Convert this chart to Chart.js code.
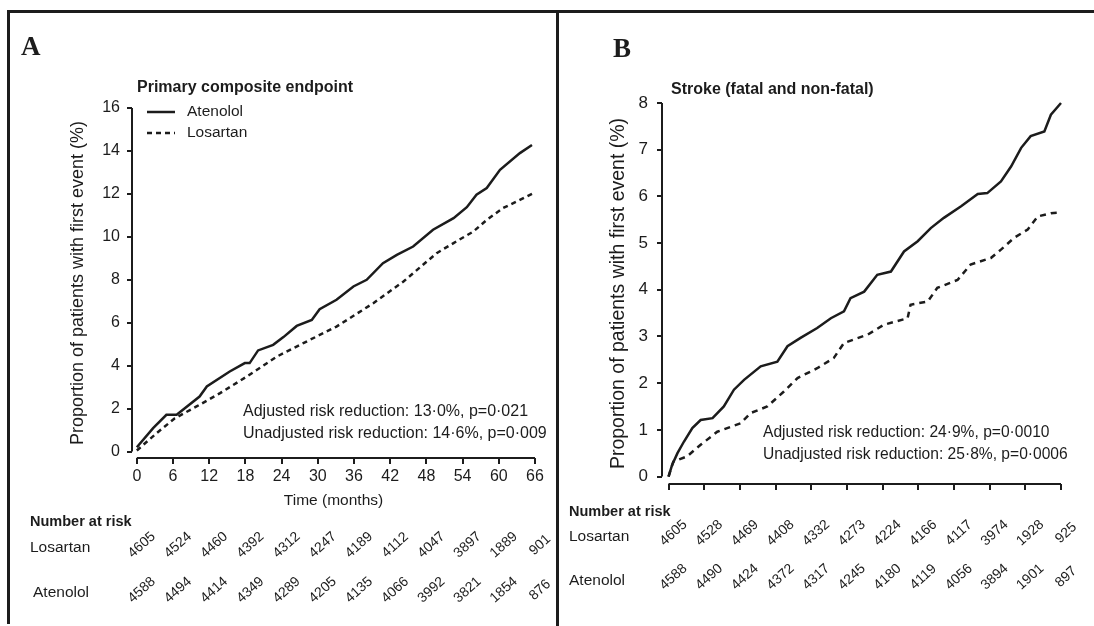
<!DOCTYPE html>
<html>
<head>
<meta charset="utf-8">
<script src="https://cdn.jsdelivr.net/npm/chart.js@4.4.1/dist/chart.umd.min.js"></script>
<style>
html,body{margin:0;padding:0;background:#fff;width:1094px;height:626px;overflow:hidden;}
#wrap{position:relative;width:1094px;height:626px;}
canvas{position:absolute;top:0;}
#cA{left:0;}
#cB{left:559px;}
.ln{position:absolute;background:#1c1c1c;}
</style>
</head>
<body>
<div id="wrap">
  <div class="ln" style="left:7px;top:10px;width:1087px;height:3px"></div>
  <div class="ln" style="left:7px;top:10px;width:3px;height:614px"></div>
  <div class="ln" style="left:556px;top:10px;width:3px;height:616px"></div>
  <canvas id="cA" width="556" height="626" style="width:556px;height:626px"></canvas>
  <canvas id="cB" width="535" height="626" style="width:535px;height:626px"></canvas>
</div>
<script>
// ---------- data ----------
const xTicks = [0, 6, 12, 18, 24, 30, 36, 42, 48, 54, 60, 66];
const A_yTicks = [0, 2, 4, 6, 8, 10, 12, 14, 16];
const B_yTicks = [0, 1, 2, 3, 4, 5, 6, 7, 8];

// Panel A: primary composite endpoint (months, %)
const A_atenolol_t = [0, 2.7, 4.9, 6.6, 10.4, 11.6, 15.4, 17.9, 18.7, 20.1, 22.6, 24.3, 26.5, 29.0, 30.3, 33.1, 35.9, 38.1, 40.8, 43.1, 45.8, 49.1, 52.5, 54.7, 56.3, 58.0, 60.2, 63.5, 65.5];
const A_atenolol_p = [0.2, 1.09, 1.71, 1.71, 2.56, 3.03, 3.73, 4.12, 4.12, 4.71, 4.97, 5.33, 5.85, 6.13, 6.63, 7.07, 7.69, 8.0, 8.77, 9.16, 9.55, 10.33, 10.87, 11.38, 11.96, 12.27, 13.12, 13.9, 14.28];
const A_losartan_t = [0, 3.3, 6.3, 9.9, 13.8, 18.2, 23.2, 27.6, 33.1, 39.2, 44.2, 49.7, 52.5, 55.8, 58.0, 60.7, 63.5, 65.5];
const A_losartan_p = [0.05, 0.86, 1.55, 2.1, 2.72, 3.49, 4.42, 5.05, 5.82, 6.91, 7.92, 9.24, 9.71, 10.25, 10.79, 11.34, 11.72, 12.0];

// Panel B: stroke (months, %)
const B_atenolol_t = [0, 0.6, 1.5, 2.6, 4.0, 5.4, 7.4, 9.3, 11.0, 12.7, 15.5, 18.3, 20.0, 22.2, 25.0, 27.3, 29.5, 30.6, 32.9, 35.1, 37.4, 39.6, 41.9, 44.1, 46.3, 49.2, 52.0, 53.6, 55.9, 57.6, 59.3, 60.9, 63.2, 64.3, 66];
const B_atenolol_p = [0, 0.25, 0.5, 0.75, 1.04, 1.21, 1.25, 1.5, 1.86, 2.07, 2.36, 2.46, 2.79, 2.97, 3.18, 3.39, 3.54, 3.82, 3.96, 4.32, 4.39, 4.82, 5.04, 5.32, 5.54, 5.79, 6.05, 6.07, 6.32, 6.64, 7.04, 7.29, 7.39, 7.75, 8.0];
const B_losartan_t = [0, 0.8, 3.1, 5.4, 8.2, 12.1, 13.8, 16.6, 19.4, 21.7, 25.0, 27.8, 29.5, 33.5, 36.2, 40.2, 40.7, 43.6, 45.2, 48.6, 50.8, 54.2, 55.9, 58.1, 60.4, 62.1, 64.3, 65.6];
const B_losartan_p = [0, 0.32, 0.43, 0.68, 0.96, 1.14, 1.36, 1.5, 1.82, 2.11, 2.32, 2.54, 2.86, 3.04, 3.25, 3.39, 3.68, 3.75, 4.04, 4.21, 4.54, 4.68, 4.86, 5.11, 5.29, 5.57, 5.64, 5.65];

// Number at risk
const A_risk_losartan = [4605, 4524, 4460, 4392, 4312, 4247, 4189, 4112, 4047, 3897, 1889, 901];
const A_risk_atenolol = [4588, 4494, 4414, 4349, 4289, 4205, 4135, 4066, 3992, 3821, 1854, 876];
const B_risk_losartan = [4605, 4528, 4469, 4408, 4332, 4273, 4224, 4166, 4117, 3974, 1928, 925];
const B_risk_atenolol = [4588, 4490, 4424, 4372, 4317, 4245, 4180, 4119, 4056, 3894, 1901, 897];

// Texts
const A_title = 'Primary composite endpoint';
const B_title = 'Stroke (fatal and non-fatal)';
const A_notes = ['Adjusted risk reduction: 13\u00b70%, p=0\u00b7021', 'Unadjusted risk reduction: 14\u00b76%, p=0\u00b7009'];
const B_notes = ['Adjusted risk reduction: 24\u00b79%, p=0\u00b70010', 'Unadjusted risk reduction: 25\u00b78%, p=0\u00b70006'];
const yTitle = 'Proportion of patients with first event (%)';
const xTitle = 'Time (months)';

// ---------- drawing ----------
const INK = '#1c1c1c';
const SANS = "'Liberation Sans', Arial, sans-serif";
Chart.defaults.font.family = SANS;
Chart.defaults.color = INK;

function toXY(t, p) { return t.map((v, i) => ({ x: v, y: p[i] })); }

function makeDecor(o) {
  return {
    id: 'decor',
    afterDraw(chart) {
      const ctx = chart.ctx, xs = chart.scales.x, ys = chart.scales.y, ca = chart.chartArea;
      ctx.save();
      ctx.strokeStyle = INK; ctx.fillStyle = INK; ctx.lineWidth = 2;
      // offset axis lines
      ctx.beginPath();
      ctx.moveTo(ca.left, ys.getPixelForValue(o.yTicks[o.yTicks.length - 1]));
      ctx.lineTo(ca.left, ys.getPixelForValue(0));
      ctx.stroke();
      ctx.beginPath();
      ctx.moveTo(xs.getPixelForValue(xTicks[0]), ca.bottom);
      ctx.lineTo(xs.getPixelForValue(xTicks[xTicks.length - 1]), ca.bottom);
      ctx.stroke();
      // panel letter
      ctx.textBaseline = 'middle'; ctx.textAlign = 'left';
      ctx.font = "bold 27px 'Liberation Serif', 'Times New Roman', serif";
      ctx.fillText(o.letter, o.letterX, o.letterY);
      // title
      ctx.font = 'bold 16px ' + SANS;
      ctx.fillText(o.title, o.titleX, o.titleY);
      // legend
      if (o.legend) {
        const ds = chart.data.datasets;
        ds.forEach((d, i) => {
          const y = o.legY + i * 21;
          ctx.save();
          ctx.lineWidth = d.borderWidth;
          ctx.setLineDash(d.borderDash || []);
          ctx.beginPath(); ctx.moveTo(o.legX, y); ctx.lineTo(o.legX + 28, y); ctx.stroke();
          ctx.restore();
          ctx.font = '15.5px ' + SANS;
          ctx.fillText(d.label, o.legX + 40, y);
        });
      }
      // annotations
      ctx.font = o.noteSize + 'px ' + SANS;
      o.notes.forEach((s, i) => ctx.fillText(s, o.noteX, o.noteY + i * 22));
      // number at risk
      ctx.font = 'bold 14.5px ' + SANS;
      ctx.fillText('Number at risk', o.riskX, o.riskHeadY);
      ctx.font = '15.5px ' + SANS;
      ctx.fillText('Losartan', o.riskX, o.rowY[0]);
      ctx.fillText('Atenolol', o.riskX + o.atenIndent, o.rowY[1]);
      ctx.font = '14px ' + SANS;
      ctx.textAlign = 'center';
      [o.riskLos, o.riskAten].forEach((arr, r) => {
        arr.forEach((n, i) => {
          const x = xs.getPixelForValue(xTicks[i]) + 5;
          const y = o.numY[r];
          ctx.save();
          ctx.translate(x, y);
          ctx.rotate(-42 * Math.PI / 180);
          ctx.fillText(String(n), 0, 0);
          ctx.restore();
        });
      });
      ctx.restore();
    }
  };
}

function build(id, o) {
  return new Chart(document.getElementById(id), {
    type: 'line',
    data: {
      datasets: [
        { label: 'Atenolol', data: toXY(o.atT, o.atP), borderColor: INK, borderWidth: 2.5, pointRadius: 0, tension: 0, fill: false, clip: 6 },
        { label: 'Losartan', data: toXY(o.loT, o.loP), borderColor: INK, borderWidth: 2.5, borderDash: o.dash, pointRadius: 0, tension: 0, fill: false, clip: 6 }
      ]
    },
    options: {
      responsive: false, animation: false, devicePixelRatio: 1,
      layout: { padding: o.pad },
      plugins: { legend: { display: false }, tooltip: { enabled: false } },
      scales: {
        x: {
          type: 'linear', min: o.xMin, max: 66,
          afterBuildTicks: a => { a.ticks = xTicks.map(v => ({ value: v })); },
          afterFit: s => { s.height = o.xH; },
          grid: { display: true, drawOnChartArea: false, drawTicks: true, tickLength: 6, color: INK, lineWidth: 2 },
          border: { display: false },
          ticks: { display: o.xLabels, autoSkip: false, maxRotation: 0, padding: 3, color: INK, font: { size: 16 } },
          title: { display: o.xLabels, text: xTitle, color: INK, font: { size: 15.5 }, padding: { top: 0, bottom: o.xTitlePad } }
        },
        y: {
          type: 'linear', min: o.yMin, max: o.yTicks[o.yTicks.length - 1],
          afterBuildTicks: a => { a.ticks = o.yTicks.map(v => ({ value: v })); },
          afterFit: s => { s.width = o.yW; },
          grid: { display: true, drawOnChartArea: false, drawTicks: true, tickLength: 5, color: INK, lineWidth: 2 },
          border: { display: false },
          ticks: { padding: o.yTickPad, color: INK, font: { size: o.yTickSize } },
          title: { display: true, text: yTitle, color: INK, font: { size: o.yTitleSize }, padding: { top: o.yTitlePad, bottom: 0 } }
        }
      }
    },
    plugins: [makeDecor(o)]
  });
}

build('cA', {
  atT: A_atenolol_t, atP: A_atenolol_p, loT: A_losartan_t, loP: A_losartan_p,
  dash: [5, 4], yTicks: A_yTicks, xMin: -0.8, yMin: -0.3,
  pad: { left: 0, top: 108, right: 21, bottom: 108 }, yW: 132, xH: 60,
  xLabels: true, xTitlePad: 8, yTickPad: 7, yTickSize: 16, yTitleSize: 18, yTitlePad: 67,
  letter: 'A', letterX: 21, letterY: 48,
  title: A_title, titleX: 137, titleY: 88,
  legend: true, legX: 147, legY: 112,
  notes: A_notes, noteSize: 16, noteX: 243, noteY: 412,
  riskX: 30, riskHeadY: 522, atenIndent: 3, rowY: [548, 593], numY: [545, 590],
  riskLos: A_risk_losartan, riskAten: A_risk_atenolol
});

build('cB', {
  atT: B_atenolol_t, atP: B_atenolol_p, loT: B_losartan_t, loP: B_losartan_p,
  dash: [6, 5], yTicks: B_yTicks, xMin: -1.1, yMin: -0.16,
  pad: { left: 0, top: 103, right: 33, bottom: 102 }, yW: 103, xH: 40,
  xLabels: false, xTitlePad: 0, yTickPad: 9, yTickSize: 17, yTitleSize: 19.5, yTitlePad: 48,
  letter: 'B', letterX: 54, letterY: 50,
  title: B_title, titleX: 112, titleY: 90,
  legend: false,
  notes: B_notes, noteSize: 15.6, noteX: 204, noteY: 433,
  riskX: 10, riskHeadY: 512, atenIndent: 0, rowY: [537, 581], numY: [533, 577],
  riskLos: B_risk_losartan, riskAten: B_risk_atenolol
});
</script>
</body>
</html>
